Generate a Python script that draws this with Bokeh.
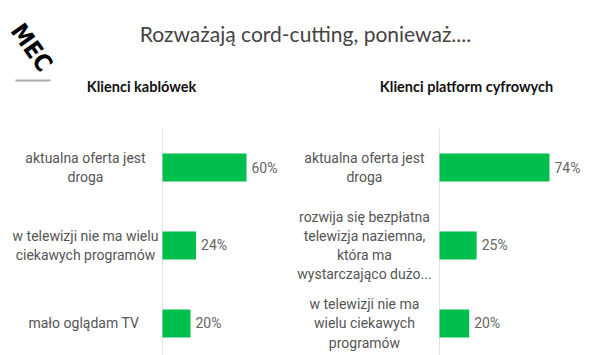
from bokeh.plotting import figure
from bokeh.layouts import column, row
from bokeh.models import Range1d, ColumnDataSource
from bokeh.embed import file_html
from bokeh.resources import INLINE
from bokeh.core.properties import value

title_text = "Rozważają cord-cutting, ponieważ...."
left_title = "Klienci kablówek"
right_title = "Klienci platform cyfrowych"

left_labels = ["aktualna oferta jest\ndroga",
               "w telewizji nie ma wielu\nciekawych programów",
               "mało  oglądam TV"]
left_values = [60, 24, 20]

right_labels = ["aktualna oferta jest\ndroga",
                "rozwija się bezpłatna\ntelewizja naziemna,\nktóra ma\nwystarczająco dużo...",
                "w telewizji nie ma\nwielu ciekawych\nprogramów"]
right_values = [74, 25, 20]

GREEN = "#00BF4D"
LABEL_FONT = value("Roboto")


def clean(p):
    p.axis.visible = False
    p.grid.visible = False
    p.outline_line_color = None
    p.min_border = 0
    p.background_fill_color = "white"
    p.border_fill_color = "white"


# ---- header ----
top = figure(width=591, height=120, x_range=Range1d(0, 591), y_range=Range1d(120, 0),
             output_backend="svg", toolbar_location=None)
clean(top)
top.text(x=[305], y=[33], text=[title_text], text_align="center", text_baseline="middle",
         text_font_size="21px", text_color="#444444", text_font=value("Lato"))
top.text(x=[141], y=[86], text=[left_title], text_align="center", text_baseline="middle",
         text_font_size="14.5px", text_font_style="bold", text_color="#111111", text_font=value("Lato"))
top.text(x=[466], y=[86], text=[right_title], text_align="center", text_baseline="middle",
         text_font_size="14.5px", text_font_style="bold", text_color="#111111", text_font=value("Lato"))
# logo
top.text(x=[31], y=[47], text=["MEC"], angle=-0.95, text_align="center", text_baseline="middle",
         text_font_size="24px", text_font_style="bold", text_color="black",
         text_font=value("DejaVu Sans Condensed"))
top.segment(x0=[15], y0=[80], x1=[50], y1=[80], line_color="#888888", line_width=2, line_alpha=0.7)


def panel(labels, values, width, x0, x1, label_x):
    p = figure(width=width, height=235, x_range=Range1d(x0, x1), y_range=Range1d(2.4103, -0.6026),
               output_backend="svg", toolbar_location=None)
    clean(p)
    ys = list(range(len(values)))
    src = ColumnDataSource(dict(y=ys, v=values, label=labels, txt=[f"{v}%" for v in values]))
    p.segment(x0=[0], y0=[-0.5], x1=[0], y1=[2.4103], line_color="#e4e4e4", line_width=1)
    p.hbar(y="y", left=0, right="v", height=0.359, fill_color=GREEN, line_color=None, source=src)
    p.text(x="v", y="y", text="txt", x_offset=5, text_baseline="middle", text_align="left",
           text_font_size="14px", text_color="#666666", text_font=LABEL_FONT, source=src)
    p.text(x=label_x, y="y", text="label", text_align="center", text_baseline="middle",
           text_font_size="14px", text_color="#555555", text_font=LABEL_FONT,
           text_line_height=1.2, source=src)
    return p


left = panel(left_labels, left_values, 290, -115.71, 91.43, -55)
right = panel(right_labels, right_values, 301, -100.27, 102.29, -50.5)

layout = column(top, row(left, right, spacing=0), spacing=0)
open("out.html", "w").write(file_html(layout, INLINE))
